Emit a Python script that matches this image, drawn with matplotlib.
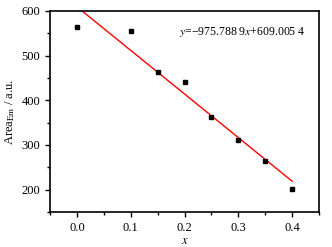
import numpy as np
import matplotlib.pyplot as plt

plt.rcParams['font.family'] = ['Liberation Serif', 'DejaVu Serif']
plt.rcParams['mathtext.fontset'] = 'stix'

x = [0.0, 0.1, 0.15, 0.2, 0.25, 0.3, 0.35, 0.4]
area = [563, 555, 463, 440, 363, 310, 265, 202]
slope = -975.7889
intercept = 609.0054

fig = plt.figure(figsize=(3.32, 2.47), dpi=100)
ax = fig.add_axes([0.151, 0.142, 0.810, 0.814])

xf = np.array([0.0, 0.4])
ax.plot(xf, slope * xf + intercept, color='red', linewidth=1.0)
ax.plot(x, area, 's', color='black', markersize=3.5)

ax.set_xlim(-0.05, 0.45)
ax.set_ylim(150, 600)
ax.set_xticks([0.0, 0.1, 0.2, 0.3, 0.4])
ax.set_xticks(np.arange(-0.05, 0.46, 0.05), minor=True)
ax.set_yticks([200, 300, 400, 500, 600])
ax.set_yticks(np.arange(150, 601, 50), minor=True)
ax.tick_params(which='both', direction='out', labelsize=9, width=1.0)
ax.tick_params(which='major', length=3.5)
ax.tick_params(which='minor', length=2)
for s in ax.spines.values():
    s.set_linewidth(1.2)

ax.set_xlabel(r'$x$', fontsize=9, labelpad=1)
ax.set_ylabel(r'Area$_{\mathrm{Em}}$ / a.u.', fontsize=9, labelpad=3)
ax.text(0.19, 553, r'$y$=−975.788 9$x$+609.005 4', fontsize=8.5, va='center')

fig.savefig('out.png', dpi=100)
